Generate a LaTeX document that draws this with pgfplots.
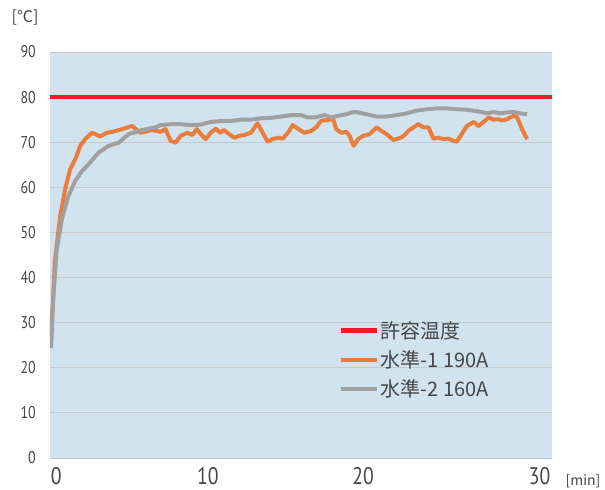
\documentclass[border=0pt]{standalone}
\usepackage{pgfplots}
\pgfplotsset{compat=1.18}
\usepackage{fontspec}
\setmainfont{Noto Sans CJK JP}
\newfontfamily\numfont[FakeStretch=0.82]{PT Sans}
\definecolor{bgblue}{RGB}{210,227,240}
\definecolor{gridgray}{RGB}{198,202,206}
\definecolor{redline}{RGB}{235,32,39}
\definecolor{orangeline}{RGB}{234,125,60}
\definecolor{grayline}{RGB}{160,160,160}
\definecolor{txtgray}{RGB}{70,70,70}
\begin{document}
\begin{tikzpicture}
\begin{axis}[name=ax, scale only axis, width=502bp, height=406bp,
 xmin=-0.07, xmax=32.6, ymin=0, ymax=90,
 axis background/.style={fill=bgblue},
 axis line style={draw=none},
 ytick={0,10,...,90}, xtick={0.33,10.2,20.3,31.8}, xticklabels={0,10,20,30},
 major tick length=0pt,
 ymajorgrids, grid style={gridgray, line width=0.8bp},
 /pgf/number format/assume math mode=true,
 yticklabel style={font=\numfont\fontsize{17bp}{17bp}\selectfont, text=txtgray, inner sep=0pt, xshift=-14bp},
 xticklabel style={font=\numfont\fontsize{24bp}{24bp}\selectfont, text=txtgray, inner sep=0pt, yshift=-9bp},
 legend style={at={(0.574,0.342)}, anchor=north west, draw=none, fill=none, font=\fontsize{20bp}{20bp}\selectfont, text=txtgray, row sep=7bp, inner sep=0pt},
 legend cell align=left,
 legend image code/.code={\draw[#1] (0bp,0bp) -- (36bp,0bp);},
]
\addplot[redline, line width=4.5bp] coordinates {(-0.07,80) (32.6,80)};
\addlegendentry{許容温度}
\addplot[orangeline, line width=4bp, line join=round] coordinates {
(0,27)(0.26,44)(0.59,53.6)(0.92,59.6)(1.24,64)(1.57,66.2)(1.90,69.2)(2.22,70.7)(2.66,72.1)(3.20,71.3)(3.64,72.1)(3.97,72.3)(4.62,72.9)(5.27,73.6)(5.82,72.1)(6.58,72.7)(7.12,72.3)(7.45,72.9)(7.78,70.3)(8.10,69.9)(8.43,71.4)(8.87,72.1)(9.20,71.6)(9.48,72.9)(9.85,71.4)(10.07,70.7)(10.39,72.1)(10.72,73.0)(11.00,72.1)(11.26,72.7)(11.59,71.8)(11.92,71.0)(12.24,71.4)(12.57,71.6)(13.01,72.1)(13.44,74.2)(13.77,72.1)(14.10,70.1)(14.42,70.7)(14.75,71.0)(15.08,70.8)(15.41,72.1)(15.73,73.8)(16.06,73.0)(16.49,72.1)(16.93,72.5)(17.25,73.3)(17.58,74.8)(18.02,74.9)(18.35,75.2)(18.56,72.9)(18.89,72.1)(19.22,72.3)(19.43,71.4)(19.69,69.2)(19.98,70.7)(20.31,71.4)(20.74,71.8)(21.18,73.3)(21.50,72.5)(21.83,71.8)(22.27,70.5)(22.59,70.8)(22.92,71.3)(23.25,72.5)(23.58,73.3)(23.90,74.0)(24.23,73.3)(24.56,73.3)(24.88,70.8)(25.21,71.0)(25.54,70.7)(25.86,70.8)(26.19,70.3)(26.41,70.1)(26.73,71.8)(27.06,73.6)(27.50,74.5)(27.82,73.6)(28.15,74.5)(28.48,75.5)(28.80,75.0)(29.12,75.1)(29.35,74.8)(29.67,75.1)(30.11,75.9)(30.33,75.5)(30.65,72.9)(30.98,70.7)};
\addlegendentry{水準-1 190A}
\addplot[grayline, line width=4bp, line join=round] coordinates {
(0,24.4)(0.15,35.8)(0.37,46.2)(0.70,52.9)(1.13,58.1)(1.57,61.4)(2.01,63.6)(2.44,65.1)(3.09,67.7)(3.75,69.2)(4.40,69.9)(5.05,71.8)(5.93,72.7)(6.80,73.3)(7.12,73.8)(7.78,74.0)(8.43,74.0)(9.08,73.8)(9.74,73.9)(10.39,74.5)(11.05,74.7)(11.70,74.7)(12.35,75.0)(13.01,75.0)(13.66,75.3)(14.31,75.4)(14.97,75.7)(15.62,76.0)(16.27,76.0)(16.71,75.5)(17.14,75.5)(17.80,76.0)(18.24,75.5)(18.89,76.0)(19.22,76.2)(19.54,76.6)(19.87,76.7)(20.52,76.2)(21.18,75.7)(21.83,75.7)(22.48,76.0)(23.14,76.4)(23.79,77.0)(24.44,77.3)(25.10,77.5)(25.75,77.5)(26.41,77.3)(27.06,77.2)(27.71,76.9)(28.37,76.4)(28.80,76.7)(29.24,76.4)(29.67,76.6)(30.11,76.7)(30.54,76.4)(30.98,76.2)};
\addlegendentry{水準-2 160A}
\end{axis}
\node[font=\fontsize{16bp}{16bp}\selectfont, text=txtgray] at ([shift={(-25bp,440bp)}]ax.south west) {[℃]};
\node[font=\fontsize{14bp}{14bp}\selectfont, text=txtgray] at ([shift={(533bp,-23bp)}]ax.south west) {[min]};
\pgfresetboundingbox
\path ([shift={(-50bp,-32bp)}]ax.south west) rectangle ([shift={(53bp,52bp)}]ax.north east);
\end{tikzpicture}
\end{document}
